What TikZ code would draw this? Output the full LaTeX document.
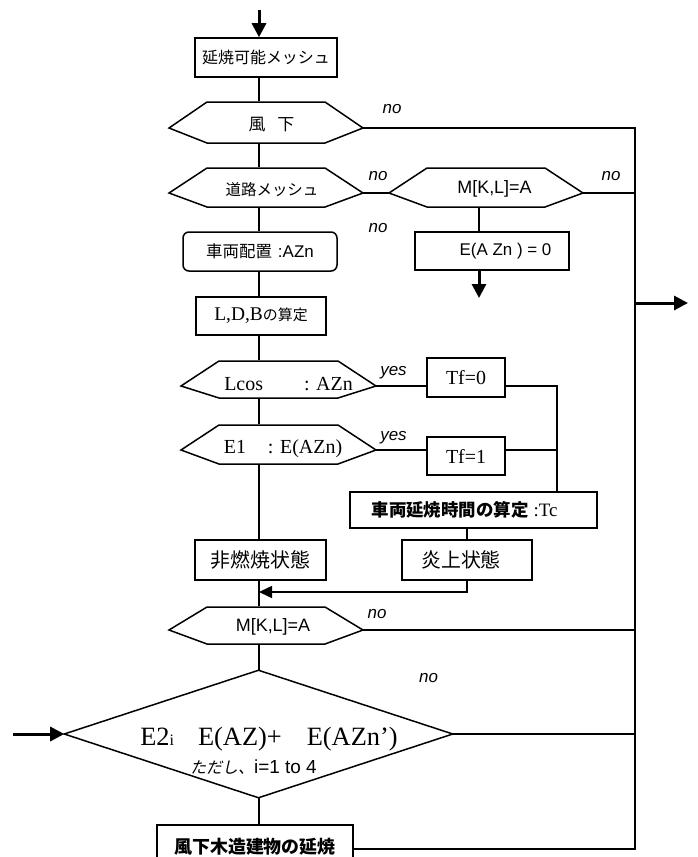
\documentclass[tikz,border=0pt]{standalone}
\usepackage{fontspec}
\setmainfont{Liberation Serif}
\setsansfont{Liberation Sans}
\newfontfamily\jp{Noto Sans CJK JP}
\newfontfamily\jpi[FakeSlant=0.2]{Noto Sans CJK JP}
\usetikzlibrary{arrows.meta}
\newcommand\fsz[1]{\fontsize{#1}{#1}\selectfont}
% hexagon decision: name, left x, right x, top y, point y, bottom y
\newcommand\hexn[6]{%
  \node[inner sep=0, minimum width={(#3-#2)*1bp}, minimum height={(#6-#4)*1bp}] (#1) at ({(#2+#3)/2},{(#4+#6)/2}) {};
  \draw (#2,#5) coordinate (#1-w) -- (#2+38,#4) -- (#3-38,#4) -- (#3,#5) coordinate (#1-e) -- (#3-38,#6) -- (#2+38,#6) -- cycle;
}
\tikzset{
  box/.style={draw, inner sep=0},
  txt/.style={inner sep=0},
  lab/.style={inner sep=0, font=\sffamily\itshape\fsz{17}},
  bigarrow/.style={line width=3bp, -{Triangle[length=14bp,width=14bp]}},
  midarrow/.style={-{Triangle[length=13bp,width=12bp]}}
}
\begin{document}
\begin{tikzpicture}[x=1bp, y=-1bp, line width=1.5bp]
\useasboundingbox (0,0) rectangle (698,857);
\clip (0,0) rectangle (698,857);
\coordinate (M) at (259,0);
\coordinate (R) at (635,0);
\coordinate (J) at (557,0);
\coordinate (K) at (467,0);
\coordinate (Q) at (479,0);

% boxes
\node[box, minimum width=142bp, minimum height=39bp] (b1) at (266,57.5) {\jp\fsz{16}延焼可能メッシュ};
\node[box, rounded corners=6bp, minimum width=154bp, minimum height=39bp] (b2) at (260,251.5) {{\jp\fsz{16.5}車両配置}\hspace{6bp}{\sffamily\fsz{17}:AZn}};
\node[box, minimum width=130bp, minimum height=38bp] (b3) at (261,316) {{\fsz{19.5}L,D,B}{\jp\fsz{15}の算定}};
\node[box, minimum width=154bp, minimum height=38bp] (b4) at (492,251) {};
\node[txt] (b4t) at (505.5,251) {\sffamily\fsz{17}E(A Zn ) = 0};
\node[box, minimum width=78bp, minimum height=39bp] (tf0) at (466,377.5) {\fsz{20}Tf=0};
\node[box, minimum width=78bp, minimum height=38bp] (tf1) at (466,456) {\fsz{20}Tf=1};
\node[box, minimum width=247bp, minimum height=36bp] (tc) at (473.5,510) {};
\node[txt] (tct) at (464.5,510) {{\jp\bfseries\fsz{17.5}車両延焼時間の算定}\hspace{5bp}{\fsz{19}:Tc}};
\node[box, minimum width=130bp, minimum height=40bp] (en) at (467,560) {};
\node[txt] (ent) at (461,560) {\jp\fsz{20}炎上状態};
\node[box, minimum width=131bp, minimum height=40bp] (hi) at (260.5,560) {\jp\fsz{20}非燃焼状態};
\node[box, minimum width=196bp, minimum height=48bp] (bt) at (255,849) {};
\node[txt] (btt) at (255,847) {\jp\bfseries\fsz{18}風下木造建物の延焼};

% hexagons
\hexn{h1}{169}{363}{102}{128}{143}
\node[txt] (h1t) at (271.5,125) {\jp\fsz{17}風\hspace{12bp}下};
\hexn{h2}{169}{363}{168}{193}{207}
\node[txt] (h2t) at (272,189.5) {\jp\fsz{15.5}道路メッシュ};
\hexn{h3}{389}{583}{168}{193}{207}
\node[txt] (h3t) at (494.5,189) {\sffamily\fsz{18}M[K,L]=A};
\hexn{h4}{181}{376}{361}{386}{398}
\node[txt] (h4t) at (288.5,384) {\fsz{20}Lcos\hspace{41bp}: AZn};
\hexn{h5}{181}{376}{425}{450}{464}
\node[txt] (h5t) at (283,448.5) {\fsz{20}E1\hspace{22bp}: E(AZn)};
\hexn{h6}{169}{363}{607}{630}{644}
\node[txt] (h6t) at (273,626.5) {\sffamily\fsz{18}M[K,L]=A};

% diamond
\node[inner sep=0, minimum width=387bp, minimum height=126bp] (dia) at (258.5,734) {};
\draw (dia.north) -- (dia.east) -- (dia.south) -- (dia.west) -- cycle;
\node[txt, anchor=base] (dt1) at (269,745) {\fsz{26.5}E2{\fsz{16}i}\hspace{24bp}E(AZ)+\hspace{25bp}E(AZn’)};
\node[txt] (dt2) at (253.5,767) {{\jpi\fsz{16}ただし、}{\sffamily\fsz{19}i=1 to 4}};

% labels
\node[lab] (n1) at (392,109) {no};
\node[lab] (n2) at (378,176.5) {no};
\node[lab] (n3) at (611,176.5) {no};
\node[lab] (n4) at (378,228) {no};
\node[lab] (n5) at (377,614) {no};
\node[lab] (n6) at (428.5,678) {no};
\node[lab, anchor=base] (y1) at (393.5,375) {yes};
\node[lab, anchor=base] (y2) at (393.5,440) {yes};

% connectors: main line
\coordinate (tin) at (259,10);
\draw[bigarrow] (tin) -- (b1.north -| M);
\draw (b1.south -| M) -- (h1.north -| M);
\draw (h1.south -| M) -- (h2.north -| M);
\draw (h2.south -| M) -- (b2.north -| M);
\draw (b2.south -| M) -- (b3.north -| M);
\draw (b3.south -| M) -- (h4.north -| M);
\draw (h4.south -| M) -- (h5.north -| M);
\draw (h5.south -| M) -- (hi.north -| M);
\draw (hi.south -| M) -- (h6.north -| M);
\draw (h6.south -| M) -- (dia.north -| M);
\draw (dia.south -| M) -- (bt.north -| M);

% right side
\draw (h1-e) -- (h1-e -| R) -- (bt.east -| R) -- (bt.east);
\draw (h2-e) -- (h3-w);
\draw (h3-e) -- (h3-e -| R);
\draw (h3.south -| Q) -- (b4.north -| Q);
\coordinate (b4out) at (479,298);
\draw[bigarrow] (b4.south -| Q) -- (b4out);
\coordinate (rout) at (688,303);
\draw[bigarrow] (rout -| R) -- (rout);
\draw (h4-e) -- (h4-e -| tf0.west);
\draw (tf0.east |- h4-e) -- (h4-e -| J) -- (tc.north -| J);
\draw (h5-e) -- (h5-e -| tf1.west);
\draw (tf1.east |- h5-e) -- (h5-e -| J);
\draw (tc.south -| K) -- (en.north -| K);
\coordinate (mg) at (259,592);
\draw[midarrow] (en.south -| K) |- (mg);
\draw (h6-e) -- (h6-e -| R);
\draw (dia.east) -- (dia.east -| R);
\coordinate (lin) at (13,734);
\draw[bigarrow] (lin) -- (dia.west);
\end{tikzpicture}
\end{document}
